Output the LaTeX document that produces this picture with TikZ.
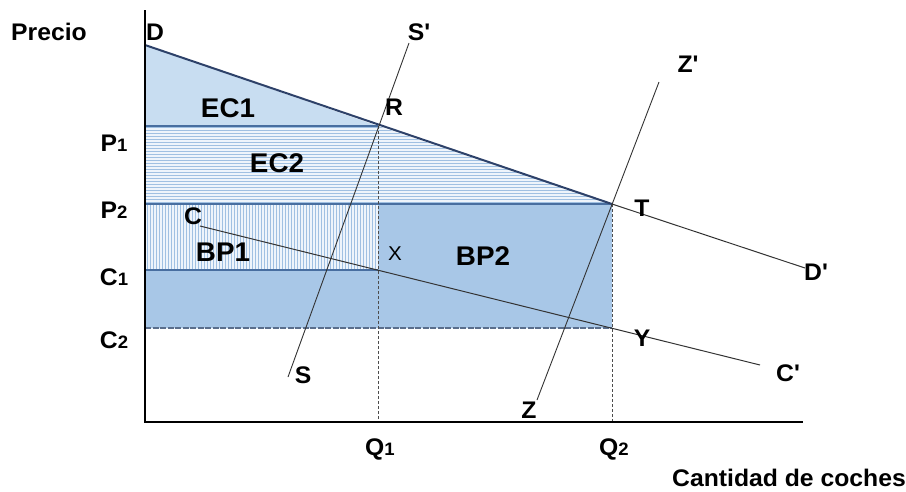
\documentclass[tikz,border=0pt]{standalone}
\usepackage{fontspec}
\setmainfont{Liberation Sans}[FakeStretch=1.03]
\usetikzlibrary{patterns}
\definecolor{solidblue}{RGB}{168,199,231}
\definecolor{econe}{RGB}{200,221,241}
\definecolor{hatchbg}{RGB}{238,244,251}
\definecolor{hatchline}{RGB}{160,192,226}
\definecolor{edgeblue}{RGB}{72,110,160}
\definecolor{navy}{RGB}{45,65,105}
\definecolor{dashgray}{RGB}{90,110,140}
\newcommand{\pr}{\textquotesingle}
\begin{document}
\begin{tikzpicture}[x=1pt,y=-1pt,
  lbl/.style={font=\fontsize{24}{26}\selectfont\bfseries, inner sep=0pt, text=black},
  area/.style={lbl, font=\fontsize{27}{29}\selectfont\bfseries},
  curve/.style={line width=1pt, draw=black!80},
  edge/.style={line width=1.6pt, draw=edgeblue},
  guide/.style={line width=0.8pt, draw=black!70, dash pattern=on 3pt off 2pt}]
\useasboundingbox (0,0) rectangle (906,491);
% coordinates
\coordinate (O) at (145,422);
\coordinate (Ytop) at (145,10);
\coordinate (Xend) at (803,422);
\coordinate (D) at (145,45);
\coordinate (R) at (378,126);
\coordinate (T) at (612,204);
\coordinate (Dp) at (805,268);
\coordinate (P1) at (145,126);
\coordinate (P2) at (145,204);
\coordinate (C1) at (145,270);
\coordinate (C2) at (145,328);
\coordinate (X) at (378,270);
\coordinate (XP) at (378,204);
\coordinate (XC) at (378,328);
\coordinate (Y) at (612,328);
\coordinate (Q1) at (378,422);
\coordinate (Q2) at (612,422);
\coordinate (Cs) at (200,226);
\coordinate (Cp) at (760,365);
\coordinate (Sb) at (288,377);
\coordinate (St) at (409,43);
\coordinate (Zb) at (537,400);
\coordinate (Zt) at (659,82);
% fills
\fill[econe] (D) -- (R) -- (P1) -- cycle;
\fill[hatchbg] (P1) -- (R) -- (T) -- (P2) -- cycle;
\path[pattern=horizontal lines, pattern color=hatchline] (P1) -- (R) -- (T) -- (P2) -- cycle;
\fill[hatchbg] (P2) rectangle (X);
\path[pattern=vertical lines, pattern color=hatchline] (P2) rectangle (X);
\fill[solidblue] (C1) -- (X) -- (XP) -- (T) -- (Y) -- (C2) -- cycle;
% region edges
\draw[edge] (P1) -- (R);
\draw[edge, line width=2pt] (P2) -- (T);
\draw[edge] (C1) -- (X);
\draw[line width=1.4pt, draw=dashgray, dash pattern=on 6pt off 1.5pt] (C2) -- (Y);
\draw[guide] (R) -- (Q1);
\draw[guide] (T) -- (Q2);
% curves
\draw[line width=2pt, draw=navy] (D) -- (T);
\draw[curve] (T) -- (Dp);
\draw[curve] (Cs) -- (Cp);
\draw[curve, line width=0.9pt] (Sb) -- (St);
\draw[curve, line width=0.9pt] (Zb) -- (Zt);
% axes
\draw[line width=2.6pt] (Ytop) -- (O) -- (Xend);
% labels
\node[lbl] (precio) at (49,32) {Precio};
\node[lbl] (lD) at (155,32) {D};
\node[lbl] (lSp) at (419,32) {S\pr};
\node[lbl] (lR) at (394,107) {R};
\node[area] (lEC1) at (228,108) {EC1};
\node[area] (lEC2) at (277,163) {EC2};
\node[lbl] (lP1) at (114,143) {P{\fontsize{18}{19}\selectfont 1}};
\node[lbl] (lP2) at (114,210) {P{\fontsize{18}{19}\selectfont 2}};
\node[lbl] (lC1) at (114,277) {C{\fontsize{18}{19}\selectfont 1}};
\node[lbl] (lC2) at (114,340) {C{\fontsize{18}{19}\selectfont 2}};
\node[lbl] (lC) at (193,216) {C};
\node[area] (lBP1) at (223,252) {BP1};
\node[lbl, font=\fontsize{20}{22}\selectfont] (lX) at (395,254) {X};
\node[area] (lBP2) at (483,256) {BP2};
\node[lbl] (lT) at (642,208) {T};
\node[lbl] (lY) at (642,338) {Y};
\node[lbl] (lDp) at (816,272) {D\pr};
\node[lbl] (lCp) at (788,373) {C\pr};
\node[lbl] (lS) at (303,375) {S};
\node[lbl] (lZ) at (529,410) {Z};
\node[lbl] (lZp) at (688,64) {Z\pr};
\node[lbl] (lQ1) at (380,449) {Q{\fontsize{18}{19}\selectfont 1}};
\node[lbl] (lQ2) at (614,449) {Q{\fontsize{18}{19}\selectfont 2}};
\node[lbl] (cant) at (789,478) {Cantidad de coches};
\end{tikzpicture}
\end{document}
